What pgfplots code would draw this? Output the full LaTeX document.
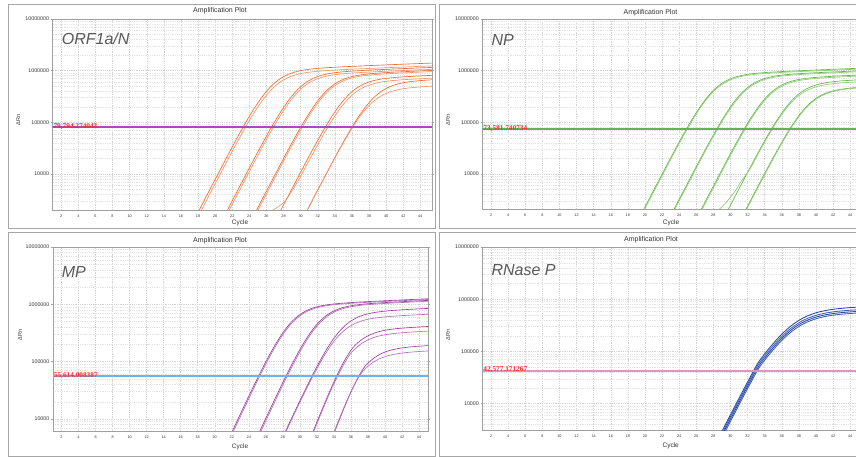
\documentclass[border=0pt]{standalone}
\usepackage{fontspec}
\setmainfont{Liberation Sans}
\newfontfamily\thrfont{Liberation Serif}
\usepackage{pgfplots}
\pgfplotsset{compat=1.18}

\definecolor{framegray}{HTML}{A6A6A6}
\definecolor{axisgray}{HTML}{A0A0A0}
\definecolor{gridmaj}{HTML}{D4D4D4}
\definecolor{gridmin}{HTML}{E3E3E3}
\definecolor{tickgray}{HTML}{333333}
\definecolor{genegray}{HTML}{5A5A5A}
\definecolor{thrred}{HTML}{FF2A2A}
\definecolor{orA}{HTML}{EF6A2E}
\definecolor{orB}{HTML}{F5956A}
\definecolor{grA}{HTML}{63B946}
\definecolor{grB}{HTML}{8DCC72}
\definecolor{puA}{HTML}{9C3E9C}
\definecolor{puB}{HTML}{B66DB9}
\definecolor{blA}{HTML}{2A49A3}
\definecolor{blB}{HTML}{3D5DBA}
\definecolor{thrPurple}{HTML}{A64CB4}
\definecolor{thrGreen}{HTML}{5DB84A}
\definecolor{thrBlue}{HTML}{6EB2E8}
\definecolor{thrPink}{HTML}{DB97C3}

\newcommand{\genefont}{\fontsize{16}{18}\selectfont\itshape}
\newcommand{\titlefont}{\fontsize{7}{8}\selectfont}
\newcommand{\cyclefont}{\fontsize{6.5}{7}\selectfont}
\newcommand{\rnfont}{\fontsize{5.5}{6}\selectfont}
\newcommand{\thrlabel}{\thrfont\bfseries\fontsize{7.3}{8}\selectfont}
\newcommand{\xtickfont}{\fontsize{3.8}{4}\selectfont}
\newcommand{\ytickfont}{\fontsize{5.3}{6}\selectfont}

% shared look of the four plots (no log mode in here)
\pgfplotsset{
  ampaxis/.style={
    scale only axis,
    xmin=1, xmax=45.35,
    xtick={2,4,6,8,10,12,14,16,18,20,22,24,26,28,30,32,34,36,38,40,42,44},
    xticklabels={2,4,6,8,10,12,14,16,18,20,22,24,26,28,30,32,34,36,38,40,42,44},
    axis line style={axisgray, line width=0.8pt},
    tick align=outside,
    xtick style={draw=none},
    ytick style={axisgray, line width=0.6pt},
    major tick length=2pt, minor tick length=0pt,
    xmajorgrids=true, ymajorgrids=true, yminorgrids=true,
    major grid style={gridmaj, line width=0.45pt, dash pattern=on 0.9pt off 0.9pt},
    minor grid style={gridmin, line width=0.4pt, dash pattern=on 0.9pt off 0.9pt},
    xticklabel style={font=\xtickfont, text=tickgray, anchor=north, inner sep=0pt, yshift=-2.2pt},
    yticklabel style={font=\ytickfont, text=tickgray, anchor=east, inner sep=0pt, xshift=-1.5pt},
  },
  curve/.style={smooth, no markers, line width=0.65pt},
  thrline/.style={no markers, line width=2pt},
}

\begin{document}
\begin{tikzpicture}
\useasboundingbox (0pt,0pt) rectangle (856pt,457pt);
\fill[white] (0pt,0pt) rectangle (856pt,457pt);
\clip (0pt,0pt) rectangle (856pt,457pt);

% panel frames
\draw[framegray, line width=1pt] (8.3pt,452pt) rectangle (435.7pt,228.7pt);
\draw[framegray, line width=1pt] (439.3pt,452pt) rectangle (870pt,228.2pt);
\draw[framegray, line width=1pt] (8.3pt,224.3pt) rectangle (435.7pt,0.8pt);
\draw[framegray, line width=1pt] (439.3pt,224.3pt) rectangle (870pt,0.8pt);

% ---------------- ORF1a/N ----------------
\begin{axis}[ampaxis, ymode=log, at={(52.7pt,438pt)}, anchor=north west,
  width=379.2pt, height=191pt, ymin=2010, ymax=10000000,
  ytick={10000,100000,1000000,10000000},
  yticklabels={10000,100000,1000000,10000000},
  minor ytick={2000,3000,4000,5000,6000,7000,8000,9000,20000,30000,40000,50000,60000,70000,80000,90000,200000,300000,400000,500000,600000,700000,800000,900000,2000000,3000000,4000000,5000000,6000000,7000000,8000000,9000000}]
\addplot[curve, orA] coordinates {(17.6,1350)(19.6,5870)(21.6,25100)(22.6,51000)(23.6,101000)(24.6,189000)(25.6,328000)(26.6,510000)(27.6,698000)(28.6,856000)(29.6,968000)(30.6,1042000)(31.6,1091000)(32.6,1127000)(34.6,1179000)(36.6,1223000)(38.6,1265000)(40.6,1306000)(42.6,1346000)(44.6,1387000)(46.6,1428000)};
\addplot[curve, orB] coordinates {(17.7,1190)(19.7,5180)(21.7,22200)(22.7,45000)(23.7,88800)(24.7,167000)(25.7,290000)(26.7,450000)(27.7,616000)(28.7,755000)(29.7,854000)(30.7,919000)(31.7,963000)(32.7,994000)(34.7,1041000)(36.7,1079000)(38.7,1116000)(40.7,1152000)(42.7,1188000)(44.7,1224000)(46.7,1260000)};
\addplot[curve, orA] coordinates {(20.7,1160)(22.7,5070)(24.7,21700)(25.7,44000)(26.7,86900)(27.7,163000)(28.7,283000)(29.7,440000)(30.7,603000)(31.7,738000)(32.7,835000)(33.7,899000)(34.7,942000)(35.7,972000)(37.7,1018000)(39.7,1055000)(41.7,1091000)(43.7,1126000)(45.7,1162000)};
\addplot[curve, orB] coordinates {(20.8,1070)(22.8,4660)(24.8,19900)(25.8,40500)(26.8,80000)(27.8,150000)(28.8,261000)(29.8,405000)(30.8,555000)(31.8,680000)(32.8,768000)(33.8,827000)(34.8,867000)(35.8,895000)(37.8,937000)(39.8,971000)(41.8,1004000)(43.8,1037000)(45.8,1069000)};
\addplot[curve, orA] coordinates {(24,1070)(26,4660)(28,19900)(29,40500)(30,80000)(31,150000)(32,261000)(33,405000)(34,555000)(35,680000)(36,768000)(37,827000)(38,867000)(39,895000)(41,937000)(43,971000)(45,1004000)(47,1037000)};
\addplot[curve, orB] coordinates {(24.1,1020)(26.1,4430)(28.1,19000)(29.1,38500)(30.1,76000)(31.1,143000)(32.1,248000)(33.1,385000)(34.1,527000)(35.1,646000)(36.1,730000)(37.1,787000)(38.1,824000)(39.1,851000)(41.1,890000)(43.1,923000)(45.1,955000)(47.1,985000)};
\addplot[curve, orA] coordinates {(26.6,899)(28.6,3910)(30.6,16700)(31.6,34000)(32.6,67100)(33.6,126000)(34.6,219000)(35.6,340000)(36.6,466000)(37.6,571000)(38.6,645000)(39.6,695000)(40.6,728000)(41.6,751000)(43.6,786000)(45.6,815000)};
\addplot[curve, orB] coordinates {(26,1700)(28,2800)(29.5,6500)(30.7,14800)(31.7,30000)(32.7,59200)(33.7,111000)(34.7,193000)(35.7,300000)(36.7,411000)(37.7,503000)(38.7,569000)(39.7,613000)(40.7,642000)(41.7,663000)(43.7,694000)(45.7,719000)};
\addplot[curve, orA] coordinates {(29.5,780)(31.5,3400)(33.5,14500)(34.5,29500)(35.5,58200)(36.5,110000)(37.5,190000)(38.5,295000)(39.5,404000)(40.5,495000)(41.5,560000)(42.5,603000)(43.5,631000)(44.5,652000)(46.5,682000)};
\addplot[curve, orB] coordinates {(29.1,582)(31.1,2530)(33.1,10800)(34.1,22000)(35.1,43400)(36.1,81700)(37.1,142000)(38.1,220000)(39.1,301000)(40.1,369000)(41.1,417000)(42.1,449000)(43.1,471000)(44.1,486000)(46.1,509000)};
\addplot[thrline, color=thrPurple] coordinates {(0,79794.274043)(46,79794.274043)};
\node[anchor=base west, inner sep=0pt, text=thrred, font=\thrlabel, yshift=-0.8pt] at (axis cs:1.08,79794.274043) {79,794.274043};
\end{axis}

% ---------------- NP ----------------
\begin{axis}[ampaxis, ymode=log, at={(482.5pt,438pt)}, anchor=north west,
  width=379.2pt, height=190pt, ymin=2100, ymax=10000000,
  ytick={10000,100000,1000000,10000000},
  yticklabels={10000,100000,1000000,10000000},
  minor ytick={3000,4000,5000,6000,7000,8000,9000,20000,30000,40000,50000,60000,70000,80000,90000,200000,300000,400000,500000,600000,700000,800000,900000,2000000,3000000,4000000,5000000,6000000,7000000,8000000,9000000}]
\addplot[curve, grA] coordinates {(19,1100)(21,4780)(23,20400)(24,41500)(25,81900)(26,154000)(27,267000)(28,415000)(29,568000)(30,696000)(31,787000)(32,848000)(33,888000)(34,917000)(36,960000)(38,995000)(40,1029000)(42,1062000)(44,1096000)(46,1129000)};
\addplot[curve, grB] coordinates {(19.05,1060)(21.05,4610)(23.05,19700)(24.05,40000)(25.05,79000)(26.05,148500)(27.05,258000)(28.05,400000)(29.05,548000)(30.05,671000)(31.05,759000)(32.05,817000)(33.05,856000)(34.05,884000)(36.05,925000)(38.05,959000)(40.05,992000)(42.05,1024000)(44.05,1056000)(46.05,1088000)};
\addplot[curve, grA] coordinates {(22.45,1030)(24.45,4490)(26.45,19200)(27.45,39000)(28.45,77000)(29.45,144800)(30.45,251000)(31.45,390000)(32.45,534000)(33.45,654000)(34.45,740000)(35.45,797000)(36.45,835000)(37.45,862000)(39.45,902000)(41.45,935000)(43.45,967000)(45.45,998000)};
\addplot[curve, grB] coordinates {(22.5,990)(24.5,4320)(26.5,18500)(27.5,37500)(28.5,74000)(29.5,139000)(30.5,241500)(31.5,375000)(32.5,514000)(33.5,629000)(34.5,711500)(35.5,766000)(36.5,802500)(37.5,829000)(39.5,867000)(41.5,899000)(43.5,930000)(45.5,960000)};
\addplot[curve, grA] coordinates {(25.45,899)(27.45,3910)(29.45,16700)(30.45,34000)(31.45,67100)(32.45,126000)(33.45,219000)(34.45,340000)(35.45,466000)(36.45,571000)(37.45,645000)(38.45,695000)(39.45,728000)(40.45,751000)(42.45,786000)(44.45,815000)(46.45,843000)};
\addplot[curve, grB] coordinates {(25.5,859)(27.5,3740)(29.5,16000)(30.5,32500)(31.5,64200)(32.5,120600)(33.5,209000)(34.5,325000)(35.5,445000)(36.5,545000)(37.5,617000)(38.5,664000)(39.5,695500)(40.5,718000)(42.5,751500)(44.5,779000)(46.5,806000)};
\addplot[curve, grA] coordinates {(28.4,767)(30.4,3340)(32.4,14300)(33.4,29000)(34.4,57200)(35.4,107600)(36.4,186800)(37.4,290000)(38.4,397000)(39.4,487000)(40.4,550000)(41.4,592000)(42.4,621000)(43.4,641000)(45.4,671000)};
\addplot[curve, grB] coordinates {(27.5,1500)(29,2300)(30.35,4200)(31.35,7600)(32.35,13050)(33.35,26500)(34.35,52300)(35.35,98400)(36.35,170700)(37.35,265000)(38.35,363000)(39.35,445000)(40.35,503000)(41.35,541000)(42.35,567000)(43.35,585500)(45.35,613000)};
\addplot[curve, grA] coordinates {(30.05,568)(32.05,2480)(34.05,10600)(35.05,21500)(36.05,42400)(37.05,79800)(38.05,138500)(39.05,215000)(40.05,294500)(41.05,361000)(42.05,408000)(43.05,439000)(44.05,460000)(45.05,475000)(47.05,497000)};
\addplot[curve, grB] coordinates {(30.1,555)(32.1,2420)(34.1,10300)(35.1,21000)(36.1,41500)(37.1,78000)(38.1,135200)(39.1,210000)(40.1,287600)(41.1,352400)(42.1,398500)(43.1,429000)(44.1,449400)(45.1,464000)(47.1,485600)};
\addplot[thrline, color=thrGreen] coordinates {(0,73581.740734)(46,73581.740734)};
\node[anchor=base west, inner sep=0pt, text=thrred, font=\thrlabel, yshift=-0.8pt] at (axis cs:1.08,73581.740734) {73,581.740734};
\end{axis}

% ---------------- MP ----------------
\begin{axis}[ampaxis, ymode=log, at={(53pt,210pt)}, anchor=north west,
  width=375pt, height=184pt, xmax=45.05, ymin=6180, ymax=10000000,
  ytick={10000,100000,1000000,10000000},
  yticklabels={10000,100000,1000000,10000000},
  minor ytick={7000,8000,9000,20000,30000,40000,50000,60000,70000,80000,90000,200000,300000,400000,500000,600000,700000,800000,900000,2000000,3000000,4000000,5000000,6000000,7000000,8000000,9000000}]
\addplot[curve, puA] coordinates {(19.9,1250)(21.9,5440)(23.9,23300)(24.9,47200)(25.9,93300)(26.9,175400)(27.9,304000)(28.9,472500)(29.9,647000)(30.9,793000)(31.9,896500)(32.9,965000)(33.9,1011000)(34.9,1044000)(36.9,1093000)(38.9,1133000)(40.9,1172000)(42.9,1210000)(44.9,1247000)(46.9,1285000)};
\addplot[curve, puB] coordinates {(20,1216)(22,5300)(24,22650)(25,46000)(26,90800)(27,170800)(28,296000)(29,460000)(30,630000)(31,772000)(32,873000)(33,940000)(34,984000)(35,1016000)(37,1064000)(39,1103000)(41,1141000)(43,1178000)(45,1214000)(47,1251000)};
\addplot[curve, puA] coordinates {(23.1,1230)(25.1,5350)(27.1,22900)(28.1,46500)(29.1,91800)(30.1,172600)(31.1,299500)(32.1,465000)(33.1,637000)(34.1,780000)(35.1,882000)(36.1,950000)(37.1,995000)(38.1,1027500)(40.1,1075000)(42.1,1115000)(44.1,1153000)(46.1,1190000)};
\addplot[curve, puB] coordinates {(23.2,1190)(25.2,5180)(27.2,22200)(28.2,45000)(29.2,88800)(30.2,167000)(31.2,290000)(32.2,450000)(33.2,616000)(34.2,755000)(35.2,854000)(36.2,919000)(37.2,963000)(38.2,994000)(40.2,1041000)(42.2,1079000)(44.2,1116000)(46.2,1152000)};
\addplot[curve, puA] coordinates {(25.75,932)(27.75,4060)(29.75,17400)(30.75,35200)(31.75,69600)(32.75,130800)(33.75,227000)(34.75,352500)(35.75,483000)(36.75,591500)(37.75,669000)(38.75,720000)(39.75,754000)(40.75,779000)(42.75,815000)(44.75,845000)(46.75,874000)};
\addplot[curve, puB] coordinates {(25.5,734)(27.5,3200)(29.5,13700)(30.5,27700)(31.5,54800)(32.5,103000)(33.5,178700)(34.5,277500)(35.5,380000)(36.5,465600)(37.5,526500)(38.5,567000)(39.5,594000)(40.5,613000)(42.5,642000)(44.5,665000)(46.5,688000)};
\addplot[curve, puA] coordinates {(28.57,463)(30.27,2015)(31.97,8620)(32.82,17500)(33.67,34550)(34.52,65000)(35.37,112700)(36.22,175000)(37.22,239700)(38.22,293700)(39.22,332000)(40.22,357500)(41.22,374500)(42.22,386700)(44.22,404700)(46.22,419700)};
\addplot[curve, puB] coordinates {(28.42,383)(30.12,1670)(31.82,7140)(32.67,14500)(33.52,28600)(34.37,53800)(35.22,93400)(36.07,145000)(37.07,198600)(38.07,243300)(39.07,275100)(40.07,296200)(41.07,310300)(42.07,320400)(44.07,335300)(46.07,347700)};
\addplot[curve, puA] coordinates {(30.46,221)(32.06,961)(33.66,4110)(34.46,8350)(35.26,16500)(36.06,31000)(36.86,53800)(37.66,83500)(38.66,114400)(39.66,140100)(40.66,158400)(41.66,170600)(42.66,178700)(43.66,184500)(45.66,193100)};
\addplot[curve, puB] coordinates {(30.15,177)(31.75,771)(33.35,3300)(34.15,6700)(34.95,13200)(35.75,24900)(36.55,43150)(37.35,67000)(38.35,91800)(39.35,112400)(40.35,127100)(41.35,136900)(42.35,143400)(43.35,148000)(45.35,154900)};
\addplot[thrline, color=thrBlue] coordinates {(0,55614.008387)(46,55614.008387)};
\node[anchor=base west, inner sep=0pt, text=thrred, font=\thrlabel, yshift=-0.8pt] at (axis cs:1.08,55614.008387) {55,614.008387};
\end{axis}

% ---------------- RNase P ----------------
\begin{axis}[ampaxis, ymode=log, at={(482.5pt,210pt)}, anchor=north west,
  width=379.2pt, height=183.7pt, ymin=3040, ymax=10000000,
  ytick={10000,100000,1000000,10000000},
  yticklabels={10000,100000,1000000,10000000},
  minor ytick={4000,5000,6000,7000,8000,9000,20000,30000,40000,50000,60000,70000,80000,90000,200000,300000,400000,500000,600000,700000,800000,900000,2000000,3000000,4000000,5000000,6000000,7000000,8000000,9000000}]
\addplot[curve, blA, line width=0.85pt] coordinates {(27.3,846)(29.3,3680)(31.3,15800)(32.3,32000)(33.3,63200)(34.6,118800)(35.9,206100)(37.2,320000)(38.5,438300)(39.8,537000)(41.1,607200)(42.4,653700)(43.7,684800)(45,707100)(47.6,740000)};
\addplot[curve, blB, line width=0.85pt] coordinates {(27.26,754)(29.26,3280)(31.26,14000)(32.26,28500)(33.26,56300)(34.56,105800)(35.86,183500)(37.16,285000)(38.46,390300)(39.76,478200)(41.06,540800)(42.36,582200)(43.66,609900)(44.96,629700)(47.56,659000)};
\addplot[curve, blA, line width=0.85pt] coordinates {(27.3,701)(29.3,3050)(31.3,13050)(32.3,26500)(33.3,52300)(34.6,98400)(35.9,170700)(37.2,265000)(38.5,362900)(39.8,444700)(41.1,502800)(42.4,541300)(43.7,567100)(45,585500)(47.6,612800)};
\addplot[curve, blB, line width=0.85pt] coordinates {(27.35,654)(29.35,2850)(31.35,12200)(32.35,24700)(33.35,48900)(34.65,91900)(35.95,159400)(37.25,247500)(38.55,339000)(39.85,415300)(41.15,469600)(42.45,505600)(43.75,529700)(45.05,546900)(47.65,572300)};
\addplot[thrline, color=thrPink] coordinates {(0,42577.171267)(46,42577.171267)};
\node[anchor=base west, inner sep=0pt, text=thrred, font=\thrlabel, yshift=-0.8pt] at (axis cs:1.08,42577.171267) {42,577.171267};
\end{axis}

% titles, axis names and target labels
\node[font=\titlefont, text=tickgray] at (220pt,446pt) {Amplification Plot};
\node[font=\titlefont, text=tickgray] at (650.5pt,444.3pt) {Amplification Plot};
\node[font=\titlefont, text=tickgray] at (220pt,216.7pt) {Amplification Plot};
\node[font=\titlefont, text=tickgray] at (651pt,217pt) {Amplification Plot};

\node[font=\cyclefont, text=tickgray] at (240pt,233.7pt) {Cycle};
\node[font=\cyclefont, text=tickgray] at (671pt,234.3pt) {Cycle};
\node[font=\cyclefont, text=tickgray] at (240pt,10pt) {Cycle};
\node[font=\cyclefont, text=tickgray] at (670.7pt,10.7pt) {Cycle};

\node[font=\rnfont, text=tickgray, rotate=90] at (18.3pt,337pt) {ΔRn};
\node[font=\rnfont, text=tickgray, rotate=90] at (448pt,337pt) {ΔRn};
\node[font=\rnfont, text=tickgray, rotate=90] at (20pt,122.3pt) {ΔRn};
\node[font=\rnfont, text=tickgray, rotate=90] at (448pt,122.3pt) {ΔRn};

\node[anchor=west, inner sep=0pt, font=\genefont, text=genegray] at (61.7pt,418.2pt) {ORF1a/N};
\node[anchor=west, inner sep=0pt, font=\genefont, text=genegray] at (491.3pt,417pt) {NP};
\node[anchor=west, inner sep=0pt, font=\genefont, text=genegray] at (61.7pt,185pt) {MP};
\node[anchor=west, inner sep=0pt, font=\genefont, text=genegray] at (491.3pt,187.3pt) {RNase P};
\end{tikzpicture}
\end{document}
